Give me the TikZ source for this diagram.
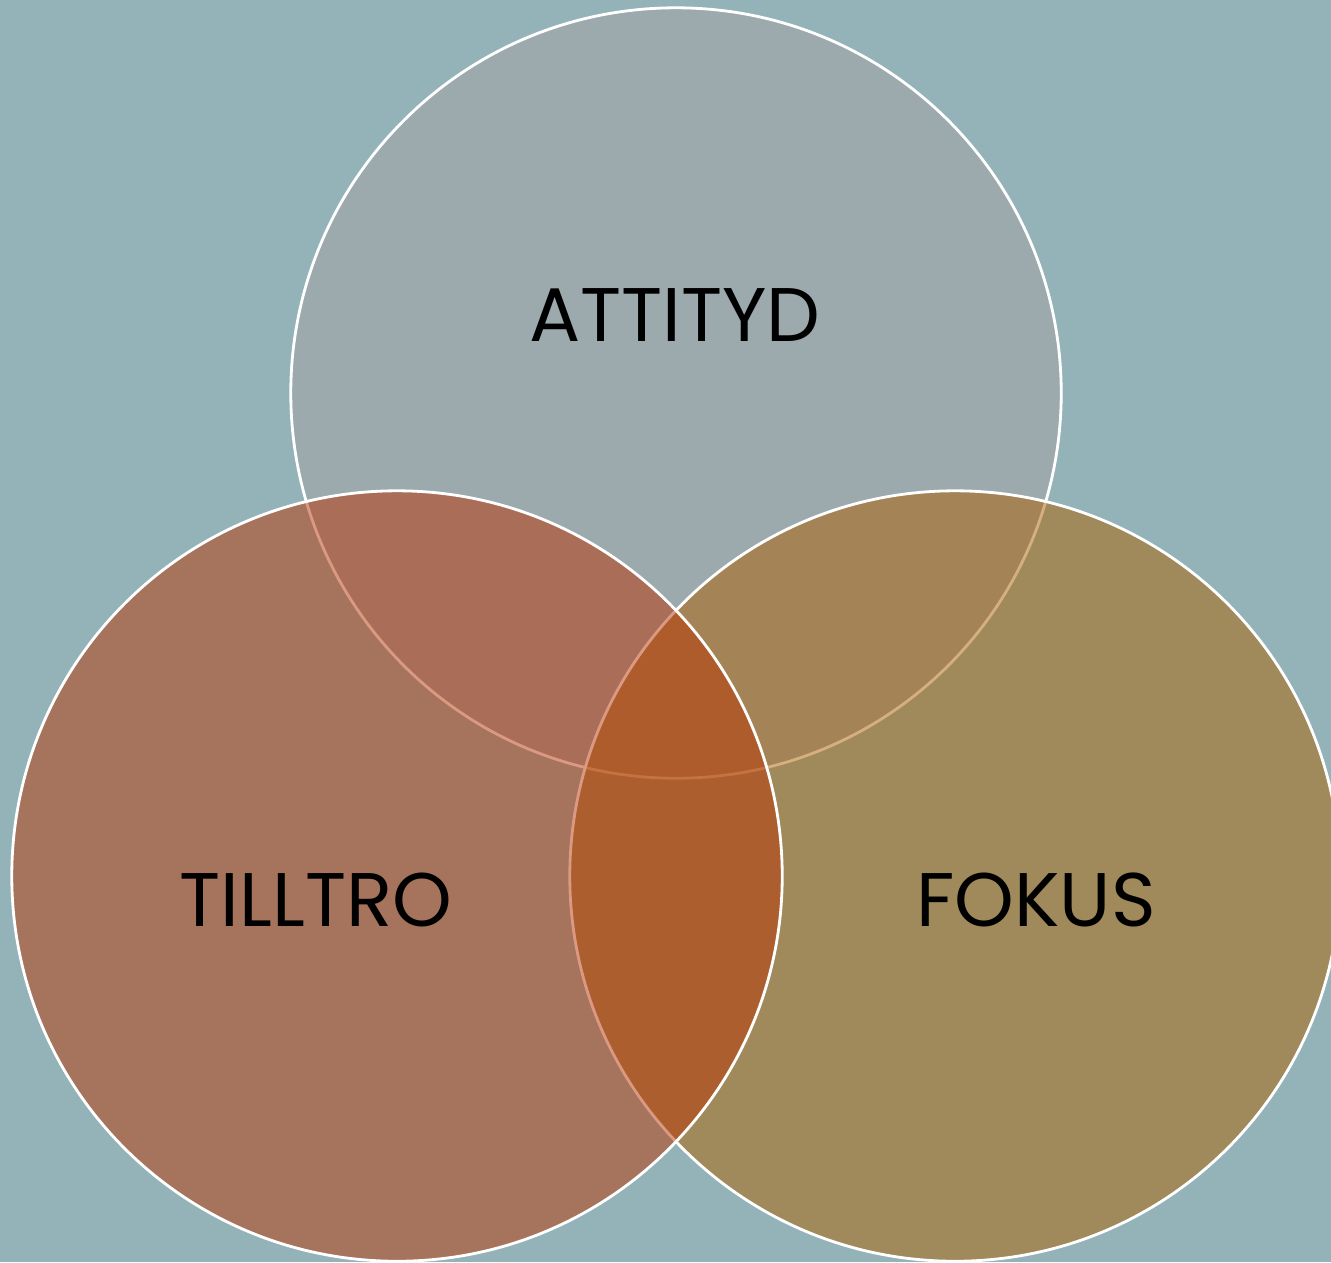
\documentclass[tikz,border=0pt]{standalone}
\usepackage{fontspec}
\setmainfont{Poppins}
\usepackage{tikz}
\usepackage{xcolor}
\usetikzlibrary{positioning}

\definecolor{bgteal}{RGB}{148,179,184}
\definecolor{topgrey}{RGB}{164,161,164}
\definecolor{rightgold}{RGB}{172,97,0}
\definecolor{leftrust}{RGB}{184,53,4}

\tikzset{
  ring/.style={circle, inner sep=0pt, minimum size=7.7cm, draw=white, line width=0.8pt, fill opacity=0.5},
  word/.style={font=\fontsize{21.6}{23}\selectfont, text=black, inner sep=0pt}
}

\begin{document}
\begin{tikzpicture}[x=0.01cm, y=-0.01cm]
\useasboundingbox (0,0) rectangle (1331,1262);
\fill [bgteal] (0,0) rectangle (1331,1262);
\clip (0,0) rectangle (1331,1262);
% circles, bottom one first
\node [ring, fill=topgrey] (attityd) at (676,393) {};
\node [ring, fill=rightgold] (fokus) at (955,876) {};
\node [ring, fill=leftrust] (tilltro) at (397,876) {};
% labels
\node [word] (attityd-txt) at (675,315) {ATTITYD};
\node [word] (tilltro-txt) at (316,900) {TILLTRO};
\node [word] (fokus-txt) at (1036,900) {FOKUS};
\end{tikzpicture}
\end{document}
